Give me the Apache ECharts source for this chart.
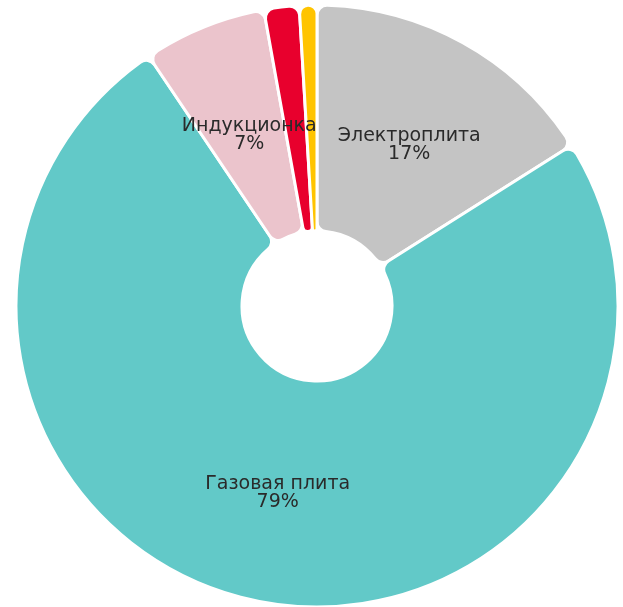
<!DOCTYPE html>
<html>
<head>
<meta charset="utf-8">
<title>Плиты</title>
<script src="https://cdn.jsdelivr.net/npm/echarts@6/dist/echarts.min.js"></script>
<style>
  html, body { margin: 0; padding: 0; background: #ffffff; overflow: hidden; }
  #wrap { position: relative; width: 623px; height: 607px; overflow: hidden; }
  /* the chart area extends above the visible frame; the outer labels sit there */
  #chart { position: absolute; left: 0; top: -100px; width: 623px; height: 707px; }
</style>
</head>
<body>
<div id="wrap"><div id="chart"></div></div>
<script>
// Slices, clockwise from 12 o'clock
const categories = ['Электроплита', 'Газовая плита', 'Индукционка', 'Мультиварка', 'Другое'];
const values = [17, 79, 7, 2, 1];
const colors = ['#C4C4C4', '#62C9C8', '#EBC4CC', '#E8002D', '#FFC400'];
// slices whose label is drawn inside the ring
const insideLabels = [true, true, true, false, false];

const chart = echarts.init(document.getElementById('chart'), null, { renderer: 'canvas' });

// small nudges for the inside labels of the upper slices
const labelNudge = { 0: [0, 6], 2: [4, 6] };

const data = categories.map((name, i) => ({
  name: name,
  value: values[i],
  itemStyle: { color: colors[i] },
  label: insideLabels[i]
    ? { position: 'inside', color: '#2a2a2a', offset: labelNudge[i] || [0, 0] }
    : { position: 'outside', color: colors[i] },
  labelLine: { show: false }
}));

chart.setOption({
  animation: false,
  series: [{
    type: 'pie',
    center: [317, 406],
    radius: [75, 301],
    startAngle: 90,
    clockwise: true,
    avoidLabelOverlap: false,
    itemStyle: {
      borderColor: '#ffffff',
      borderWidth: 3,
      borderRadius: 10
    },
    label: {
      show: true,
      formatter: '{b}\n{c}%',
      fontFamily: 'DejaVu Sans',
      fontSize: 19,
      lineHeight: 18,
      align: 'center'
    },
    labelLine: { show: false, length: 40, length2: 20 },
    data: data
  }]
});
</script>
</body>
</html>
